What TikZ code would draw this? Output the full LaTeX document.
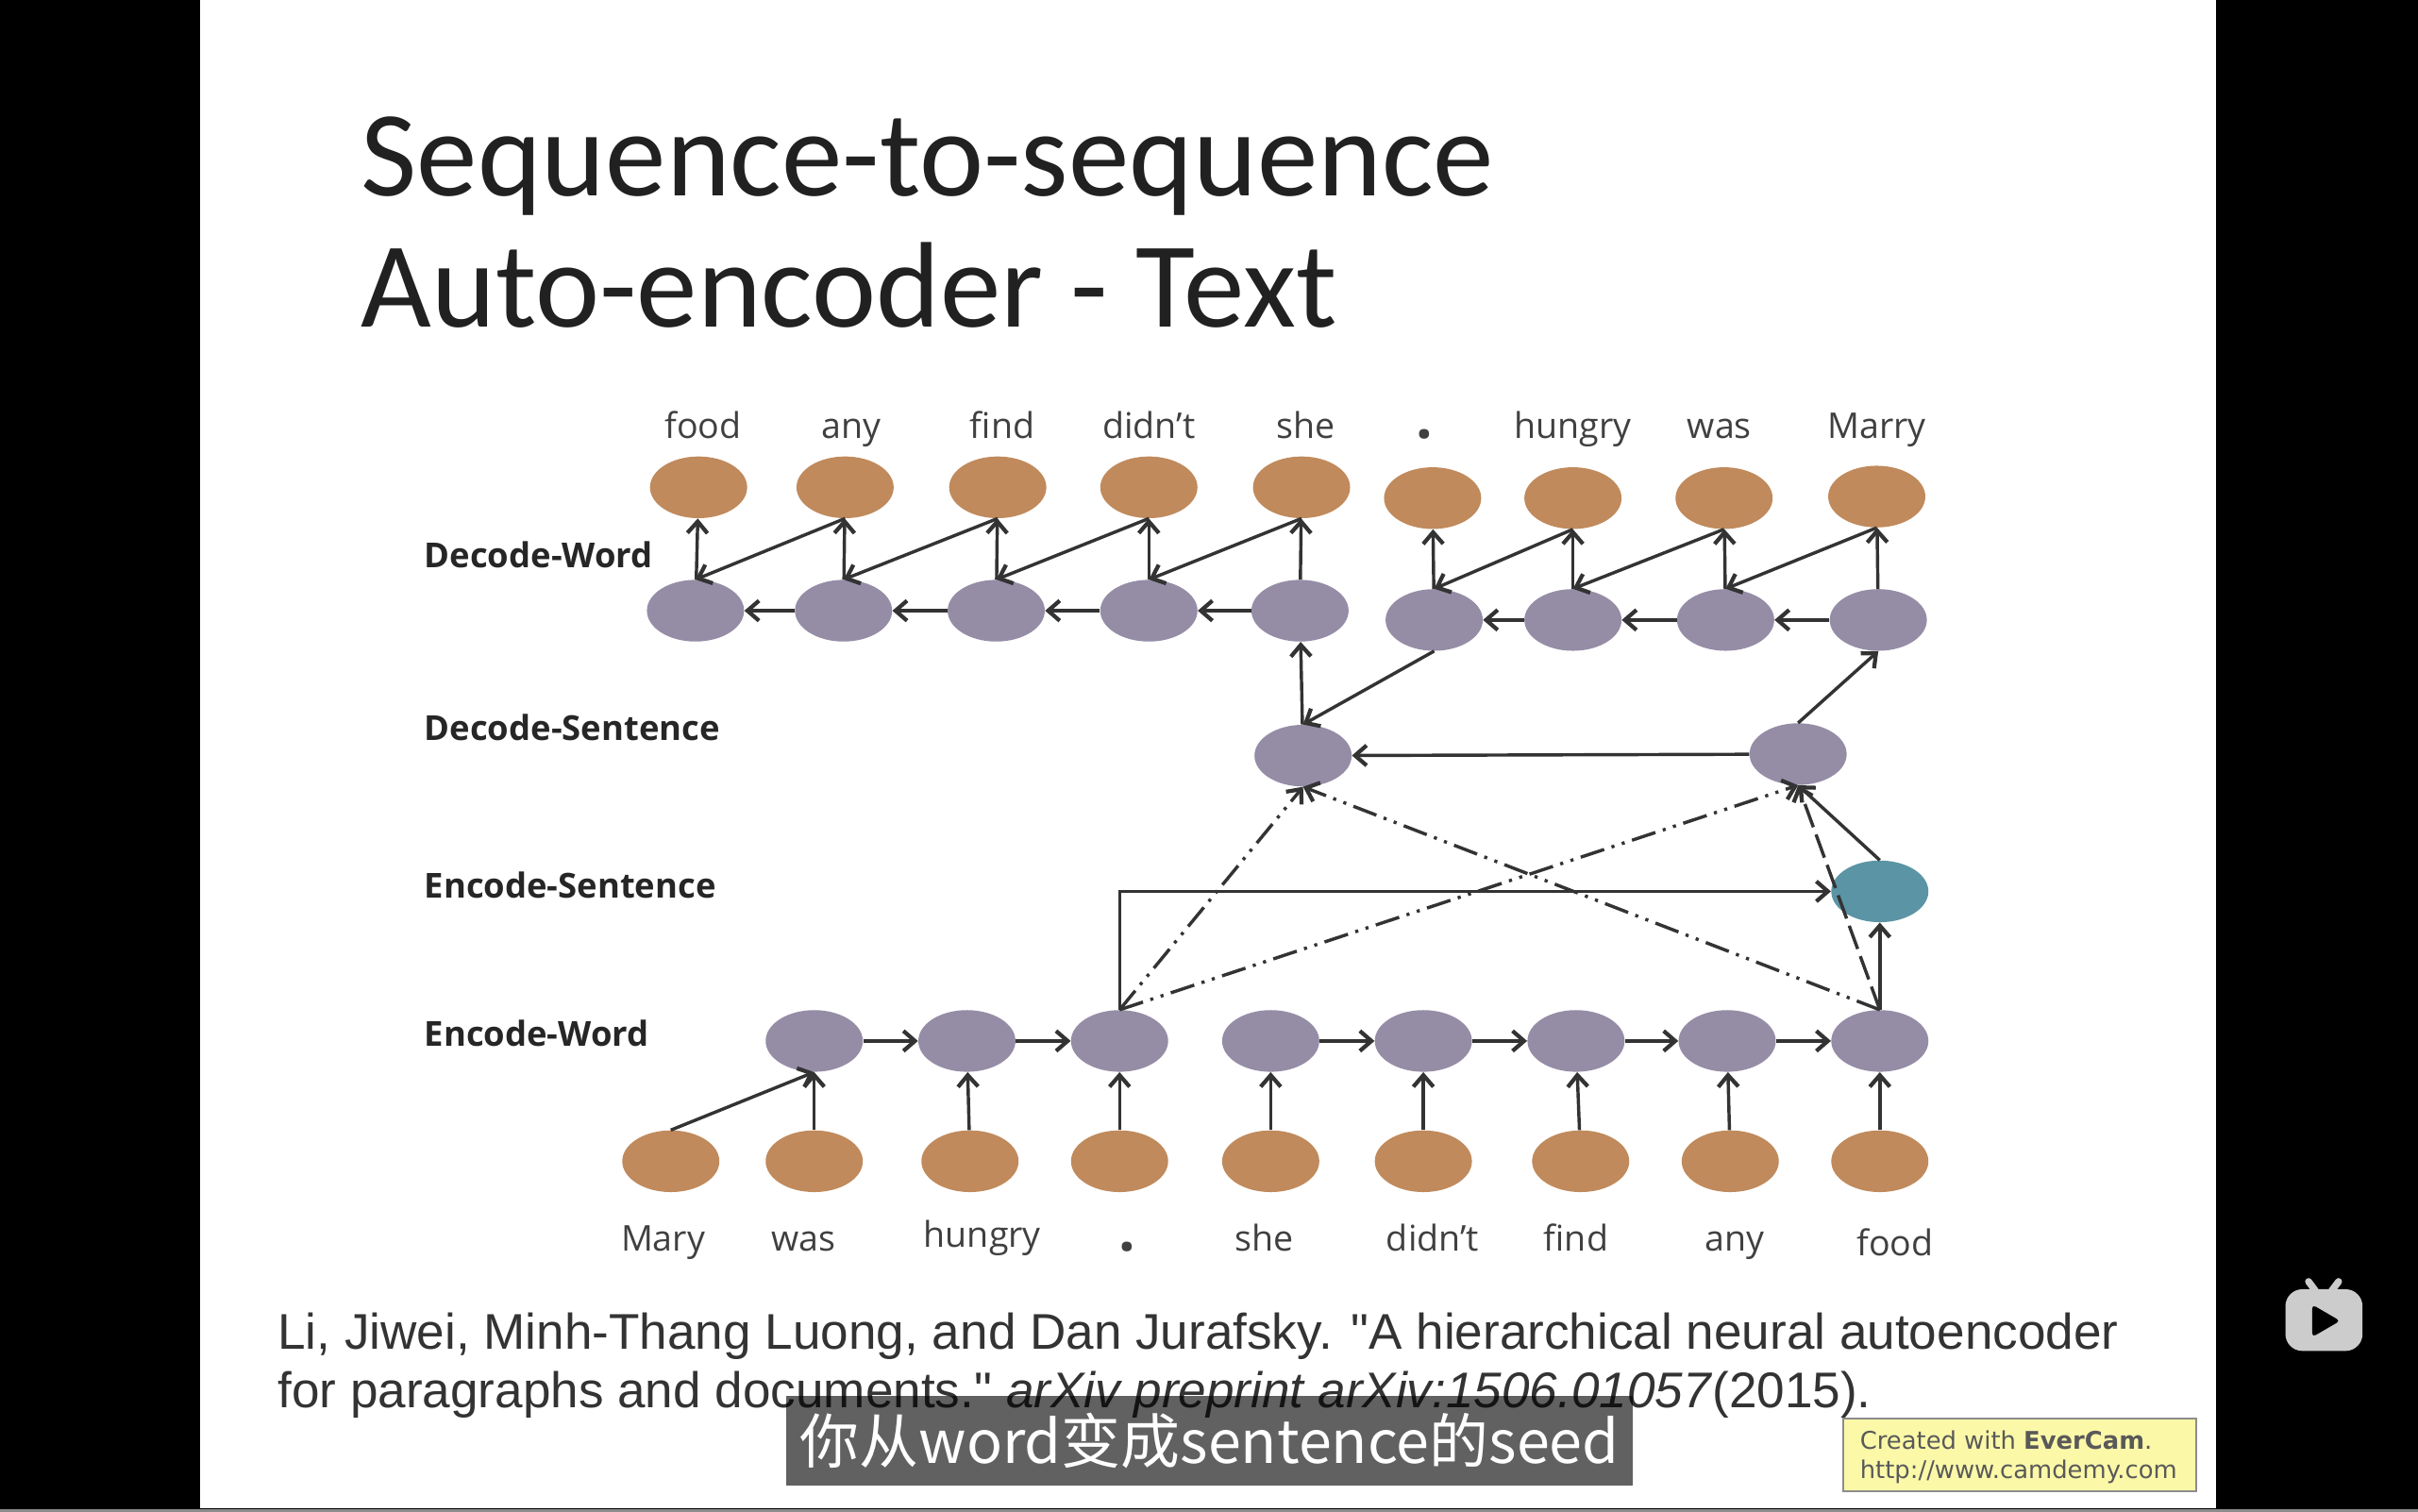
\documentclass[tikz,border=0pt]{standalone}
\usepackage{fontspec}
\setmainfont{Liberation Sans}
\newfontfamily\citefont{Liberation Sans}
\newfontfamily\titlefont{Carlito}
\newfontfamily\wordfont{Open Sans}
\newfontfamily\markfont{DejaVu Sans}
\newfontfamily\cjkfont{Noto Sans CJK SC}
\usetikzlibrary{shapes.geometric,arrows.meta}
\definecolor{brownword}{HTML}{C08A5C}
\definecolor{purplestate}{HTML}{958DA6}
\definecolor{tealcode}{HTML}{5B94A5}
\definecolor{linegray}{HTML}{333333}
\definecolor{notepaper}{HTML}{FBF8A8}
\begin{document}
\begin{tikzpicture}[x=1pt,y=-1pt]
  \tikzstyle{wordnode}=[ellipse,fill=brownword,minimum width=63pt,minimum height=40pt,inner sep=0pt]
  \tikzstyle{statenode}=[ellipse,fill=purplestate,minimum width=63pt,minimum height=40pt,inner sep=0pt]
  \tikzstyle{codenode}=[ellipse,fill=tealcode,minimum width=63pt,minimum height=40pt,inner sep=0pt]
  \tikzstyle{word}=[font=\wordfont\fontsize{23}{26}\selectfont,text=black!75,anchor=base,inner sep=0pt]
  \tikzstyle{stopword}=[font=\wordfont\bfseries\fontsize{38}{40}\selectfont,text=black!75,anchor=base,inner sep=0pt]
  \tikzstyle{rowlabel}=[font=\wordfont\bfseries\fontsize{22.3}{26}\selectfont,text=black!85,anchor=west,inner sep=0pt]
  \tikzstyle{titleline}=[font=\titlefont\fontsize{79}{90}\selectfont,text=black!87,anchor=base west,inner sep=0pt]
  \tikzstyle{citeline}=[font=\citefont\fontsize{32.5}{36}\selectfont,text=black!80,anchor=base west,inner sep=0pt]
  \tikzstyle{edge}=[draw=linegray,line width=2.1pt,-{Straight Barb[length=7.5pt,width=13pt,line width=2.6pt]}]
  \tikzstyle{dashdot}=[edge,dash pattern=on 16pt off 5pt on 2pt off 5pt on 2pt off 5pt]
  \tikzstyle{longdash}=[edge,dash pattern=on 16pt off 5pt]
  % slide
  \useasboundingbox (0,0) rectangle (1568,980.4);
  \fill[black] (0,0) rectangle (1568,980.4);
  \fill[white] (130,0) rectangle (1437,978);
  \fill[black!45] (0,978.6) rectangle (1568,980.4);
  % title
  \node [titleline] (title1) at (234,127) {Sequence-to-sequence};
  \node [titleline] (title2) at (234,212) {Auto-encoder - Text};
  % top words
  \node [word] (t1) at (456,284) {food};
  \node [word] (t2) at (552,284) {any};
  \node [word] (t3) at (650,284) {find};
  \node [word] (t4) at (745,284) {didn’t};
  \node [word] (t5) at (847,284) {she};
  \node [stopword] (t6) at (924,284) {.};
  \node [word] (t7) at (1020,284) {hungry};
  \node [word] (t8) at (1115,284) {was};
  \node [word] (t9) at (1217,284) {Marry};
  % row labels
  \node [rowlabel] (l1) at (275,360) {Decode-Word};
  \node [rowlabel] (l2) at (275,472) {Decode-Sentence};
  \node [rowlabel] (l3) at (275,574) {Encode-Sentence};
  \node [rowlabel] (l4) at (275,670) {Encode-Word};
  % decoder outputs
  \node [wordnode] (o1) at (453,316) {};
  \node [wordnode] (o2) at (548,316) {};
  \node [wordnode] (o3) at (647,316) {};
  \node [wordnode] (o4) at (745,316) {};
  \node [wordnode] (o5) at (844,316) {};
  \node [wordnode] (o6) at (929,323) {};
  \node [wordnode] (o7) at (1020,323) {};
  \node [wordnode] (o8) at (1118,323) {};
  \node [wordnode] (o9) at (1217,322) {};
  % decoder word states
  \node [statenode] (d1) at (451,396) {};
  \node [statenode] (d2) at (547,396) {};
  \node [statenode] (d3) at (646,396) {};
  \node [statenode] (d4) at (745,396) {};
  \node [statenode] (d5) at (843,396) {};
  \node [statenode] (d6) at (930,402) {};
  \node [statenode] (d7) at (1020,402) {};
  \node [statenode] (d8) at (1119,402) {};
  \node [statenode] (d9) at (1218,402) {};
  % sentence states
  \node [statenode] (s1) at (845,490) {};
  \node [statenode] (s2) at (1166,489) {};
  \node [codenode] (c1) at (1219,578) {};
  % encoder word states
  \node [statenode] (e1) at (528,675) {};
  \node [statenode] (e2) at (627,675) {};
  \node [statenode] (e3) at (726,675) {};
  \node [statenode] (e4) at (824,675) {};
  \node [statenode] (e5) at (923,675) {};
  \node [statenode] (e6) at (1022,675) {};
  \node [statenode] (e7) at (1120,675) {};
  \node [statenode] (e8) at (1219,675) {};
  % encoder inputs
  \node [wordnode] (i1) at (435,753) {};
  \node [wordnode] (i2) at (528,753) {};
  \node [wordnode] (i3) at (629,753) {};
  \node [wordnode] (i4) at (726,753) {};
  \node [wordnode] (i5) at (824,753) {};
  \node [wordnode] (i6) at (923,753) {};
  \node [wordnode] (i7) at (1025,753) {};
  \node [wordnode] (i8) at (1122,753) {};
  \node [wordnode] (i9) at (1219,753) {};
  % bottom words
  \node [word] (b1) at (430,811) {Mary};
  \node [word] (b2) at (521,811) {was};
  \node [word] (b3) at (637,809) {hungry};
  \node [stopword] (b4) at (731,811) {.};
  \node [word] (b5) at (820,811) {she};
  \node [word] (b6) at (929,811) {didn’t};
  \node [word] (b7) at (1022,811) {find};
  \node [word] (b8) at (1125,811) {any};
  \node [word] (b9) at (1229,814) {food};
  % decoder arrows
  \path[edge] (d1) -- (o1);
  \path[edge] (d2) -- (o2);
  \path[edge] (d3) -- (o3);
  \path[edge] (d4) -- (o4);
  \path[edge] (d5) -- (o5);
  \path[edge] (d6) -- (o6);
  \path[edge] (d7) -- (o7);
  \path[edge] (d8) -- (o8);
  \path[edge] (d9) -- (o9);
  \path[edge] (o2.south) -- (d1.north);
  \path[edge] (o3.south) -- (d2.north);
  \path[edge] (o4.south) -- (d3.north);
  \path[edge] (o5.south) -- (d4.north);
  \path[edge] (o7.south) -- (d6.north);
  \path[edge] (o8.south) -- (d7.north);
  \path[edge] (o9.south) -- (d8.north);
  \path[edge] (d2) -- (d1);
  \path[edge] (d3) -- (d2);
  \path[edge] (d4) -- (d3);
  \path[edge] (d5) -- (d4);
  \path[edge] (d7) -- (d6);
  \path[edge] (d8) -- (d7);
  \path[edge] (d9) -- (d8);
  % sentence arrows
  \path[edge] (s1) -- (d5);
  \path[edge] (d6.south) -- (s1.north);
  \path[edge] (s2.north) -- (d9.south);
  \path[edge] (s2) -- (s1);
  \path[edge] (c1.north) -- (s2.south);
  \path[edge] (e8) -- (c1);
  \path[edge] (e3.north) |- (c1);
  \path[dashdot] (e3.north) -- (s1.south);
  \path[dashdot] (e3.north) -- (s2.south);
  \path[dashdot] (e8.north) -- (s1.south);
  \path[longdash] (e8.north) -- (s2.south);
  % encoder arrows
  \path[edge] (e1) -- (e2);
  \path[edge] (e2) -- (e3);
  \path[edge] (e4) -- (e5);
  \path[edge] (e5) -- (e6);
  \path[edge] (e6) -- (e7);
  \path[edge] (e7) -- (e8);
  \path[edge] (i1.north) -- (e1.south);
  \path[edge] (i2) -- (e1);
  \path[edge] (i3) -- (e2);
  \path[edge] (i4) -- (e3);
  \path[edge] (i5) -- (e4);
  \path[edge] (i6) -- (e5);
  \path[edge] (i7) -- (e6);
  \path[edge] (i8) -- (e7);
  \path[edge] (i9) -- (e8);
  % citation
  \node [citeline] (c2) at (180,875) {Li, Jiwei, Minh-Thang Luong, and Dan Jurafsky. "A hierarchical neural autoencoder};
  \node [citeline] (c3) at (180,913) {for paragraphs and documents." \textit{arXiv preprint arXiv:1506.01057}(2015).};
  % subtitle
  \node [fill=black,fill opacity=0.62,text opacity=1,text=white,minimum width=549pt,minimum height=58pt,inner sep=0pt,font=\cjkfont\fontsize{38.5}{42}\selectfont] (subtitle) at (784.5,934) {\raisebox{-2pt}{你从word变成sentence的seed}};
  % note box
  \node [draw=black!45,line width=1.2pt,fill=notepaper,minimum width=229pt,minimum height=47pt,inner sep=0pt] (note) at (1309.5,943.5) {};
  \node [font=\markfont\fontsize{15.8}{18}\selectfont,text=black!65,anchor=base west,inner sep=0pt] (note1) at (1206,940) {Created with \textbf{EverCam}.};
  \node [font=\markfont\fontsize{15.8}{18}\selectfont,text=black!65,anchor=base west,inner sep=0pt] (note2) at (1206,959) {http://www.camdemy.com};
  % player mark
  \fill[black!20,rounded corners=11pt] (1482,836) rectangle (1532,876);
  \draw[black!20,line width=4.5pt,line cap=round] (1501.5,837) -- (1497,831);
  \draw[black!20,line width=4.5pt,line cap=round] (1512,837) -- (1516.5,831);
  \fill[black,rounded corners=2.5pt] (1499.4,846) -- (1517.5,856.5) -- (1499.4,867) -- cycle;
\end{tikzpicture}
\end{document}
